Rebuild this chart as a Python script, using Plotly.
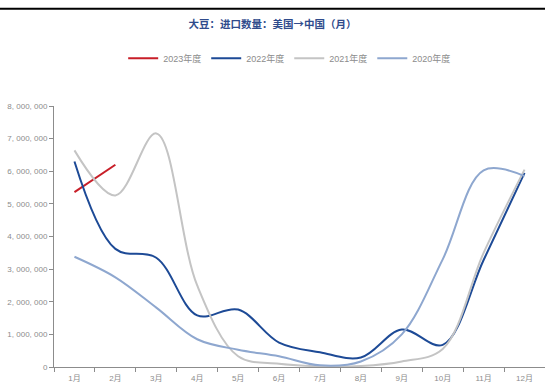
import plotly.graph_objects as go

months = ["1月", "2月", "3月", "4月", "5月", "6月", "7月", "8月", "9月", "10月", "11月", "12月"]

y2023 = [5.36e6, 6.2e6]
y2022 = [6.3e6, 3.62e6, 3.35e6, 1.58e6, 1.76e6, 0.75e6, 0.45e6, 0.29e6, 1.15e6, 0.68e6, 3.28e6, 5.95e6]
y2021 = [6.64e6, 5.26e6, 7.16e6, 2.5e6, 0.33e6, 0.1e6, 0.02e6, 0.03e6, 0.17e6, 0.55e6, 3.5e6, 6.05e6]
y2020 = [3.38e6, 2.75e6, 1.82e6, 0.85e6, 0.53e6, 0.33e6, 0.05e6, 0.17e6, 1.0e6, 3.3e6, 6.03e6, 5.85e6]

series = [
    ("2023年度", y2023, "#C81E28"),
    ("2022年度", y2022, "#1D4A96"),
    ("2021年度", y2021, "#C4C4C4"),
    ("2020年度", y2020, "#8EA7CF"),
]

ytick_vals = [0, 1e6, 2e6, 3e6, 4e6, 5e6, 6e6, 7e6, 8e6]
ytick_text = ["0", "1, 000, 000", "2, 000, 000", "3, 000, 000", "4, 000, 000",
              "5, 000, 000", "6, 000, 000", "7, 000, 000", "8, 000, 000"]

tick_font = dict(family="Liberation Sans, Noto Sans CJK SC", size=8, color="#8C8C8C")

fig = go.Figure()
for name, vals, color in series:
    fig.add_trace(go.Scatter(
        x=months[:len(vals)], y=vals, name=name, mode="lines",
        line=dict(color=color, width=2, shape="spline", smoothing=1.0),
    ))

fig.update_layout(
    width=545, height=383,
    margin=dict(l=54, r=0, t=106, b=14),
    paper_bgcolor="white", plot_bgcolor="white",
    font=dict(family="Noto Sans CJK SC, Liberation Sans", size=9, color="#7F7F7F"),
    title=dict(text="大豆：进口数量：美国→中国（月）", x=0.5, xanchor="center",
               y=1 - 24 / 383, yanchor="middle",
               font=dict(family="Noto Sans CJK SC", size=10.5, color="#2F4B8C", weight="bold")),
    legend=dict(orientation="h", x=0.48, xanchor="center", y=1 + 48 / 263, yanchor="middle",
                font=dict(family="Liberation Sans, Noto Sans CJK SC", size=9, color="#8C8C8C"),
                itemwidth=30, tracegroupgap=0),
    showlegend=True,
    shapes=[dict(type="line", xref="paper", yref="paper", x0=-0.2, x1=1.2,
                 y0=1 + 98 / 263, y1=1 + 98 / 263, line=dict(color="black", width=2))],
)

fig.update_xaxes(
    type="category", categoryorder="array", categoryarray=months,
    range=[-0.5, 11.5], showline=True, linecolor="#8C8C8C", linewidth=1,
    ticks="outside", tickson="boundaries", ticklen=4, tickcolor="#8C8C8C",
    showgrid=False, zeroline=False, tickfont=tick_font, ticklabelstandoff=3,
)
fig.update_yaxes(
    range=[0, 8e6], tickvals=ytick_vals, ticktext=ytick_text,
    showline=True, linecolor="#8C8C8C", linewidth=1,
    ticks="outside", ticklen=4, tickcolor="#8C8C8C",
    showgrid=False, zeroline=False, tickfont=tick_font,
)

fig.write_html("out.html")
